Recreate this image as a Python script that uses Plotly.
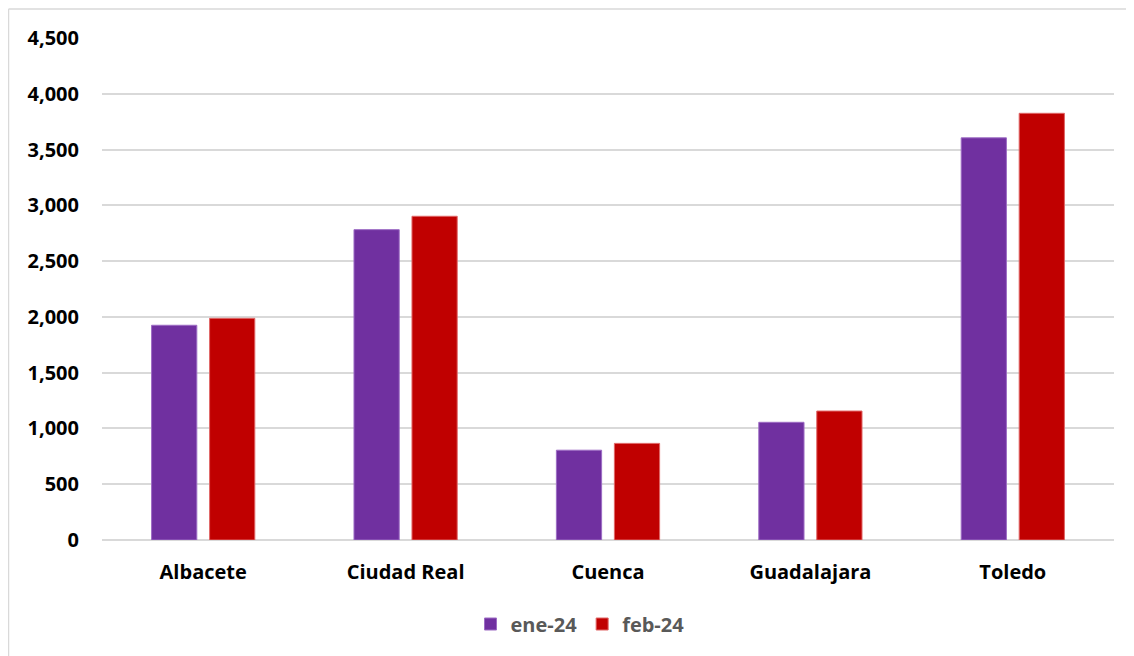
import plotly.graph_objects as go

categories = ["Albacete", "Ciudad Real", "Cuenca", "Guadalajara", "Toledo"]
ene_24 = [1925, 2782, 805, 1055, 3605]
feb_24 = [1987, 2902, 866, 1156, 3825]
series_names = ["ene-24", "feb-24"]
y_ticks = [0, 500, 1000, 1500, 2000, 2500, 3000, 3500, 4000, 4500]

# page has an 8px body margin, so the figure is drawn at (8, 8)
W, H = 1126, 648
ML, MR, MT, MB = 94, 20, 30, 116

fig = go.Figure()
fig.add_trace(go.Bar(x=categories, y=ene_24, name=series_names[0],
                     marker=dict(color="#7030A0", line=dict(color="#9D6CC4", width=1))))
fig.add_trace(go.Bar(x=categories, y=feb_24, name=series_names[1],
                     marker=dict(color="#C00000", line=dict(color="#E06666", width=1))))

font_family = "Open Sans"
ph = H - MT - MB
pw = W - ML - MR
fig.update_layout(
    width=W, height=H,
    margin=dict(l=ML, r=MR, t=MT, b=MB, pad=0),
    paper_bgcolor="white", plot_bgcolor="white",
    barmode="group", bargap=0.427, bargroupgap=0.22,
    showlegend=True,
    legend=dict(orientation="h", x=0.5 - 28 / pw, xanchor="center",
                y=(532 - 616) / ph, yanchor="middle",
                font=dict(family=font_family, size=20, color="#595959", weight="bold"),
                itemwidth=30, traceorder="normal"),
    font=dict(family=font_family, color="black"),
)
fig.update_yaxes(range=[0, 4500], tickvals=y_ticks, tickformat=",",
                 showgrid=True, gridcolor="#D9D9D9", gridwidth=1.5,
                 zeroline=True, zerolinecolor="#D9D9D9", zerolinewidth=1.5,
                 showline=False, ticks="", ticklabelstandoff=22,
                 tickfont=dict(family=font_family, size=20, color="black", weight="bold"))
fig.update_xaxes(showgrid=False, showline=False, ticks="", ticklabelstandoff=18,
                 tickfont=dict(family=font_family, size=20, color="black", weight="bold"))

# outer chart border (top and left lines visible)
x_left = (0.5 - ML) / pw
y_top = (ph + MT - 1) / ph
fig.add_shape(type="line", xref="paper", yref="paper",
              x0=x_left, x1=x_left, y0=y_top, y1=-(MB + 10) / ph,
              line=dict(color="#D9D9D9", width=1.5))
fig.add_shape(type="line", xref="paper", yref="paper",
              x0=x_left, x1=(pw + MR + 10) / pw, y0=y_top, y1=y_top,
              line=dict(color="#D9D9D9", width=1.5))

fig.write_html("out.html")
